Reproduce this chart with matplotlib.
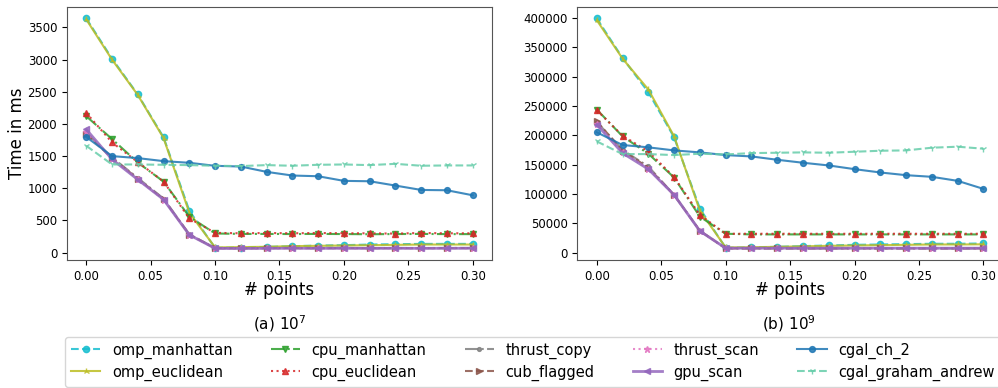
import matplotlib
matplotlib.use("Agg")
import matplotlib.pyplot as plt
import numpy as np

x = [0.00, 0.02, 0.04, 0.06, 0.08, 0.10, 0.12, 0.14, 0.16, 0.18, 0.20, 0.22, 0.24, 0.26, 0.28, 0.30]

names = ["omp_manhattan", "omp_euclidean", "cpu_manhattan", "cpu_euclidean",
         "thrust_copy", "cub_flagged", "thrust_scan", "gpu_scan",
         "cgal_ch_2", "cgal_graham_andrew"]

# (a) 10^7
a_omp_manhattan = [3640, 3015, 2458, 1792, 651, 73, 78, 88, 99, 109, 115, 125, 130, 135, 135, 135]
a_omp_euclidean = [3625, 3000, 2450, 1780, 620, 80, 85, 90, 100, 105, 110, 115, 120, 125, 125, 125]
a_cpu_manhattan = [2120, 1765, 1400, 1104, 557, 297, 290, 290, 288, 290, 288, 285, 288, 290, 287, 287]
a_cpu_euclidean = [2172, 1713, 1406, 1104, 531, 307, 300, 305, 300, 305, 300, 300, 295, 305, 300, 300]
a_thrust_copy = [1860, 1480, 1160, 840, 285, 70, 68, 70, 72, 70, 72, 70, 72, 70, 72, 72]
a_cub_flagged = [1840, 1470, 1150, 830, 280, 68, 66, 68, 70, 68, 70, 68, 70, 68, 70, 70]
a_thrust_scan = [1875, 1460, 1140, 825, 278, 66, 65, 67, 68, 67, 68, 67, 68, 67, 68, 68]
a_gpu_scan = [1915, 1450, 1135, 825, 275, 65, 64, 66, 67, 66, 67, 66, 67, 66, 67, 67]
a_cgal_ch_2 = [1797, 1500, 1469, 1422, 1396, 1349, 1338, 1255, 1198, 1187, 1115, 1109, 1042, 974, 969, 891]
a_cgal_graham = [1660, 1370, 1370, 1365, 1360, 1350, 1345, 1360, 1350, 1365, 1370, 1360, 1380, 1350, 1355, 1355]

# (b) 10^9
b_omp_manhattan = [399500, 332000, 273700, 196600, 74900, 8000, 8600, 9700, 10900, 12000, 13100, 13700, 14300, 14900, 14900, 15400]
b_omp_euclidean = [396600, 331000, 278300, 198300, 71400, 8600, 9000, 9700, 10500, 11400, 12000, 12600, 13100, 13700, 13700, 14000]
b_cpu_manhattan = [244000, 198300, 168600, 128000, 61150, 32000, 30900, 30900, 30900, 30900, 30900, 30900, 30900, 30900, 30900, 30900]
b_cpu_euclidean = [242900, 199400, 172600, 128600, 64000, 32000, 32000, 32000, 32000, 32000, 32000, 32000, 32000, 32000, 32000, 32000]
b_thrust_copy = [222900, 175000, 146900, 98300, 37100, 6900, 6900, 6900, 6900, 6900, 6900, 6900, 6900, 6900, 6900, 6900]
b_cub_flagged = [224000, 174000, 145000, 98300, 37100, 7000, 7000, 7000, 7000, 7000, 7000, 7000, 7000, 7000, 7000, 7000]
b_thrust_scan = [220000, 171000, 143000, 98000, 36800, 7200, 7200, 7200, 7200, 7200, 7200, 7200, 7200, 7200, 7200, 7200]
b_gpu_scan = [218300, 169700, 142300, 98300, 36600, 7400, 7400, 7400, 7400, 7400, 7400, 7400, 7400, 7400, 7400, 7400]
b_cgal_ch_2 = [205200, 183500, 179500, 174300, 170900, 166300, 164000, 158300, 153200, 148600, 142300, 136600, 132000, 129200, 122300, 108600]
b_cgal_graham = [189700, 168000, 168000, 166300, 168600, 167400, 169700, 170300, 170900, 170300, 172000, 173700, 174300, 178900, 180600, 177200]

data_a = [a_omp_manhattan, a_omp_euclidean, a_cpu_manhattan, a_cpu_euclidean, a_thrust_copy,
          a_cub_flagged, a_thrust_scan, a_gpu_scan, a_cgal_ch_2, a_cgal_graham]
data_b = [b_omp_manhattan, b_omp_euclidean, b_cpu_manhattan, b_cpu_euclidean, b_thrust_copy,
          b_cub_flagged, b_thrust_scan, b_gpu_scan, b_cgal_ch_2, b_cgal_graham]

styles = [
    dict(color="#17becf", ls="--", marker="o", ms=4.5, lw=1.5),
    dict(color="#bcbd22", ls="-", marker="2", ms=4.5, lw=1.5),
    dict(color="#2ca02c", ls="-.", marker="v", ms=4.5, lw=1.5),
    dict(color="#d62728", ls=":", marker="^", ms=4.5, lw=1.5),
    dict(color="#7f7f7f", ls="-.", marker=".", ms=5.5, lw=1.5),
    dict(color="#8c564b", ls="--", marker=">", ms=4, lw=1.5),
    dict(color="#e377c2", ls=":", marker="*", ms=4.5, lw=1.5),
    dict(color="#9467bd", ls="-", marker="<", ms=4.5, lw=2.0),
    dict(color="#1f77b4", ls="-", marker="o", ms=4.2, lw=1.5),
    dict(color="#66cdaa", ls="--", marker="1", ms=4.5, lw=1.5),
]

plt.rcParams["font.family"] = ["DejaVu Sans"]
fig = plt.figure(figsize=(9.98, 3.88), dpi=100)
axa = fig.add_axes([0.0671, 0.330, 0.4259, 0.652])
axb = fig.add_axes([0.5786, 0.330, 0.4262, 0.652])

handles = []
for ax, data in ((axa, data_a), (axb, data_b)):
    for name, ys, st in zip(names, data, styles):
        h, = ax.plot(x, ys, label=name, alpha=0.85, **st)
        if ax is axa:
            handles.append(h)
    ax.set_xlabel("# points", fontsize=12, labelpad=-1)
    ax.tick_params(labelsize=8.5)
    ax.set_xticks([0.0, 0.05, 0.10, 0.15, 0.20, 0.25, 0.30])
    for s in ax.spines.values():
        s.set_color("#555555")

axa.set_ylabel("Time in ms", fontsize=12, labelpad=1)
axa.set_yticks([0, 500, 1000, 1500, 2000, 2500, 3000, 3500])
axb.set_yticks([0, 50000, 100000, 150000, 200000, 250000, 300000, 350000, 400000])

fig.text(0.28, 0.165, "(a) 10$^7$", ha="center", va="center", fontsize=11)
fig.text(0.791, 0.165, "(b) 10$^9$", ha="center", va="center", fontsize=11)

fig.legend(handles=handles, labels=names, ncol=5, loc="lower left",
           bbox_to_anchor=(0.064, 0.0, 0.94, 0.14), mode="expand",
           fontsize=10.5, frameon=True, borderaxespad=0.1,
           handlelength=2.0, columnspacing=1.5, labelspacing=0.4)

fig.savefig("out.png", dpi=100)
